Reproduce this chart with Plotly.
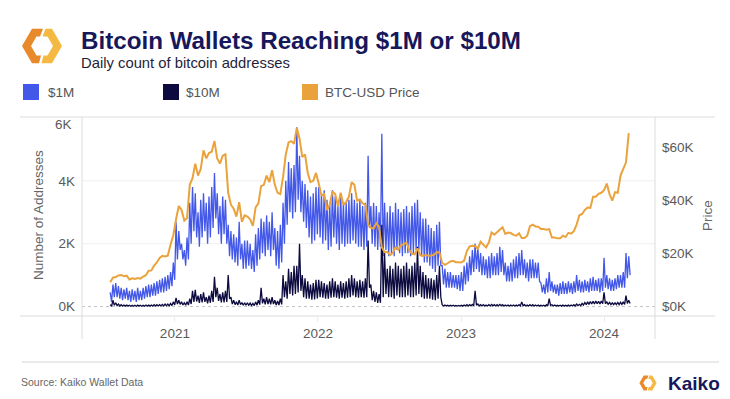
import pandas as pd
import plotly.graph_objects as go

# ---------------- data ----------------
week_start = "2020-07-20"          # first weekly sample (Mondays)
series_names = ["$1M", "$10M", "BTC-USD Price"]
year_ticks = ["2021-01-01", "2022-01-01", "2023-01-01", "2024-01-01"]
year_labels = ["2021", "2022", "2023", "2024"]
left_ticks = [0, 2000, 4000, 6000]
left_labels = ["0K", "2K", "4K", "6K"]
right_ticks = [0, 20000, 40000, 60000]
right_labels = ["$0K", "$20K", "$40K", "$60K"]

# BTC-USD price, weekly
price_2020 = [9200, 11000, 11200, 11800, 12000, 11500, 11700, 10300, 10700, 10500, 10800, 10600,
              11400, 11900, 13600, 13700, 15500, 16700, 18400, 19200, 19000, 19300, 23500, 27000]
price_2021 = [33000, 38000, 36500, 32500,
              33500, 46000, 48500, 54000,
              49500, 52000, 59000, 56000, 58000,
              58500, 62500, 56000, 54000,
              57000, 57500, 43000, 38500, 37000,
              34000, 39500, 32000, 34500,
              34000, 33000, 30500, 37500,
              39000, 45500, 46000, 49500, 47000,
              51500, 46000, 43000, 42500,
              49000, 57500, 62000, 62500,
              61500, 67500, 63500, 56500, 57500,
              50500, 47000, 47500, 50500]
price_2022 = [46500, 42000, 42500, 36500, 38500,
              43500, 42500, 38000, 43000,
              38500, 39500, 41500, 47000,
              46000, 40000, 40500, 39000,
              38500, 31000, 29800, 29500, 31500,
              30000, 22500, 20600, 20700,
              19500, 20300, 22500, 21500,
              23200, 23800, 24200, 21400, 20000,
              19800, 22000, 19500, 19200,
              19600, 19200, 19300, 19600, 20600,
              20500, 16500, 15800, 16400,
              17100, 17300, 16800, 16800]
price_2023 = [16700, 17400, 21000, 22800, 23000,
              22900, 21900, 24500, 23500,
              22400, 24200, 28000, 27200,
              28200, 29000, 30000, 27500,
              28000, 27800, 27100, 26800, 27700,
              25900, 25900, 26800, 30400,
              31000, 30300, 30200, 29300, 29300,
              29100, 29300, 26100, 26100,
              25800, 25800, 26800, 26300,
              27900, 27600, 28500, 31000, 34500,
              35000, 36500, 37400, 37300,
              41500, 41500, 42600, 43000]
price_2024 = [44000, 46500, 42500, 40000, 43200, 43000, 49500, 51800, 54500, 65500]

# $1M wallets: weekly high (weekday) and low (weekend) readings
m1_high_2020 = [450, 700, 750, 650, 600, 550, 600, 500, 550, 500, 600, 500,
                600, 650, 700, 700, 750, 800, 850, 900, 950, 1000, 1100, 1400]
m1_low_2020 = [150, 300, 300, 250, 200, 250, 200, 150, 200, 150, 200, 200,
               250, 300, 300, 350, 350, 400, 450, 450, 500, 550, 650, 850]
m1_high_2021 = [2700, 2400, 2000, 1800,
                2200, 3300, 3800, 3600,
                3000, 3400, 3600, 3300, 3500,
                3800, 4250, 3600, 3200,
                3500, 3400, 2600, 2400, 2300,
                2200, 2700, 2000, 2100,
                2100, 2000, 1800, 2300,
                2500, 2800, 2700, 2900, 2700,
                3000, 2500, 2400, 2600,
                3300, 4000, 4600, 4400,
                4500, 5700, 4800, 4000, 3900,
                3700, 3500, 3600, 3800]
m1_low_2021 = [1500, 1800, 1500, 1300,
               1500, 2000, 2400, 2200,
               1900, 2200, 2400, 2000, 2200,
               2500, 2800, 2300, 2000,
               2300, 2000, 1600, 1500, 1400,
               1300, 1500, 1200, 1200,
               1300, 1200, 1100, 1300,
               1500, 1700, 1600, 1800, 1600,
               1800, 1300, 1200, 1400,
               2000, 2600, 3000, 2800,
               3000, 3400, 3000, 2700, 2500,
               2200, 2000, 2100, 2300]
m1_high_2022 = [3800, 3600, 3700, 3400, 3300,
                3700, 3500, 3200, 3600,
                3300, 3300, 3400, 3600,
                3400, 3300, 3400, 3200,
                3300, 4800, 3200, 3300, 3200,
                3000, 5500, 3300, 3000,
                3200, 3000, 3300, 3100,
                3000, 3100, 3200, 3000, 3200,
                3300, 3400, 3000, 2800,
                2800, 2600, 2500, 2400, 2600,
                2700, 1300, 1200, 1100,
                1100, 1000, 1000, 1000]
m1_low_2022 = [2200, 2000, 2100, 1800, 1900,
               2200, 2000, 1800, 2000,
               1900, 2000, 2000, 2100,
               2000, 1900, 1900, 1800,
               1900, 2500, 2000, 1900, 1800,
               1900, 1600, 1800, 1600,
               1700, 1600, 1800, 1700,
               1600, 1700, 1700, 1600, 1700,
               1800, 1800, 1600, 1400,
               1400, 1300, 1200, 1100, 1300,
               1300, 700, 600, 600,
               600, 600, 550, 500]
m1_high_2023 = [1100, 1300, 1400, 1600, 1800,
                2000, 1900, 1700, 1600,
                1500, 1600, 1700, 1600,
                1700, 1900, 1800, 1400,
                1300, 1400, 1500, 1600, 1700,
                1800, 1500, 1400, 1500,
                1500, 1400, 1400, 750, 700,
                900, 1100, 800, 700,
                700, 750, 800, 750,
                800, 750, 800, 1000, 850,
                800, 850, 800, 900,
                950, 850, 900, 900]
m1_low_2023 = [500, 700, 800, 1000, 1100,
               1200, 1100, 1000, 1000,
               900, 900, 1000, 1000,
               1000, 1100, 1000, 800,
               800, 800, 900, 900, 1000,
               1000, 900, 800, 900,
               900, 900, 800, 450, 400,
               450, 500, 450, 400,
               350, 400, 400, 400,
               450, 400, 450, 500, 450,
               450, 500, 450, 500,
               500, 500, 450, 500]
m1_high_2024 = [1550, 1000, 900, 850, 900, 1000, 1000, 1100, 1700, 1600]
m1_low_2024 = [600, 550, 500, 500, 550, 600, 600, 600, 900, 1000]

# $10M wallets: weekly high and low readings
m10_high_2020 = [60, 200, 120, 80, 60, 50, 50, 40, 40, 40, 50, 40,
                 40, 50, 50, 50, 60, 60, 60, 70, 80, 80, 100, 150]
m10_low_2020 = [10, 40, 30, 20, 15, 15, 15, 10, 10, 10, 15, 10,
                10, 15, 15, 15, 20, 20, 20, 20, 25, 25, 30, 50]
m10_high_2021 = [280, 200, 150, 120,
                 150, 250, 500, 530,
                 350, 400, 450, 300, 350,
                 500, 950, 600, 400,
                 450, 500, 1000, 300, 200,
                 150, 200, 130, 120,
                 120, 110, 100, 150,
                 200, 600, 250, 300, 250,
                 300, 200, 180, 250,
                 1000, 800, 1200, 1100,
                 1300, 1300, 2000, 1000, 900,
                 800, 700, 750, 850]
m10_low_2021 = [80, 70, 50, 40,
                50, 80, 150, 160,
                120, 130, 150, 100, 120,
                150, 300, 180, 130,
                130, 150, 250, 80, 60,
                50, 60, 40, 40,
                40, 35, 30, 45,
                60, 100, 70, 80, 70,
                80, 50, 50, 70,
                300, 250, 400, 350,
                400, 450, 500, 300, 250,
                250, 220, 230, 260]
m10_high_2022 = [850, 800, 750, 700, 800,
                 900, 800, 700, 800,
                 750, 800, 900, 1000,
                 900, 800, 850, 800,
                 900, 2100, 700, 500, 450,
                 400, 2600, 1700, 1200,
                 1300, 1200, 1400, 1300,
                 1200, 1300, 1400, 1200, 1300,
                 1400, 1900, 1300, 1100,
                 1000, 900, 900, 850, 1000,
                 1300, 60, 50, 40,
                 40, 40, 35, 35]
m10_low_2022 = [300, 280, 250, 250, 280,
                300, 280, 250, 280,
                250, 280, 300, 350,
                300, 280, 300, 280,
                300, 600, 200, 150, 120,
                120, 300, 400, 300,
                300, 250, 350, 300,
                300, 300, 350, 300, 300,
                350, 400, 300, 250,
                250, 250, 220, 200, 250,
                300, 20, 20, 15,
                15, 15, 15, 15]
m10_high_2023 = [40, 50, 60, 60, 70,
                 500, 80, 60, 60,
                 50, 60, 70, 60,
                 60, 70, 60, 50,
                 50, 50, 50, 50, 60,
                 150, 60, 50, 60,
                 60, 50, 50, 40, 40,
                 60, 250, 60, 50,
                 40, 40, 50, 40,
                 50, 50, 60, 80, 70,
                 100, 130, 150, 160,
                 170, 180, 170, 180]
m10_low_2023 = [15, 20, 20, 25, 25,
                40, 25, 20, 20,
                20, 20, 25, 20,
                20, 25, 20, 20,
                20, 20, 20, 20, 20,
                30, 20, 20, 20,
                20, 20, 20, 15, 15,
                20, 40, 20, 20,
                15, 15, 20, 15,
                20, 20, 20, 30, 30,
                50, 60, 70, 80,
                80, 90, 80, 90]
m10_high_2024 = [450, 150, 130, 120, 120, 130, 140, 150, 350, 200]
m10_low_2024 = [90, 70, 60, 60, 60, 60, 70, 70, 100, 100]

# ---------------- assemble ----------------
price = price_2020 + price_2021 + price_2022 + price_2023 + price_2024
m1_high = m1_high_2020 + m1_high_2021 + m1_high_2022 + m1_high_2023 + m1_high_2024
m1_low = m1_low_2020 + m1_low_2021 + m1_low_2022 + m1_low_2023 + m1_low_2024
m10_high = m10_high_2020 + m10_high_2021 + m10_high_2022 + m10_high_2023 + m10_high_2024
m10_low = m10_low_2020 + m10_low_2021 + m10_low_2022 + m10_low_2023 + m10_low_2024
n = len(price)
for arr in (m1_high, m1_low, m10_high, m10_low):
    assert len(arr) == n, (len(arr), n)

weeks = pd.date_range(week_start, periods=n, freq="7D")
half = pd.Timedelta(hours=84)
x_zig, y_m1, y_m10 = [], [], []
for d, h1, l1, h10, l10 in zip(weeks, m1_high, m1_low, m10_high, m10_low):
    x_zig += [d, d + half]
    y_m1 += [h1, l1]
    y_m10 += [h10, l10]

BLUE = "#4358e8"
NAVY = "#0c0a3e"
ORANGE = "#eaa33c"
colors = [BLUE, NAVY, ORANGE]

fig = go.Figure()
fig.add_trace(go.Scatter(x=x_zig, y=y_m1, name=series_names[0], mode="lines",
                         line=dict(color=BLUE, width=1.3), yaxis="y"))
fig.add_trace(go.Scatter(x=x_zig, y=y_m10, name=series_names[1], mode="lines",
                         line=dict(color=NAVY, width=1.3), yaxis="y"))
fig.add_trace(go.Scatter(x=weeks, y=price, name=series_names[2], mode="lines",
                         line=dict(color=ORANGE, width=2), yaxis="y2"))

# ---------------- layout geometry ----------------
W, H = 730, 399
L, R, T, B = 82, 75, 117, 83
PW, PH = W - L - R, H - T - B


def fx(px):
    return (px - L) / PW


def fy(py):
    return (H - B - py) / PH


FONT = "Liberation Sans, Arial, sans-serif"
TICK = dict(family=FONT, size=13.5, color="#5a5a5a")

shapes = []
LINEC = "#dcdcdc"
for y in (117, 316):
    shapes.append(dict(type="line", xref="paper", yref="paper", x0=fx(20), x1=fx(715),
                       y0=fy(y), y1=fy(y), line=dict(color=LINEC, width=1)))
for x in (82, 655):
    shapes.append(dict(type="line", xref="paper", yref="paper", x0=fx(x), x1=fx(x),
                       y0=fy(117), y1=fy(339), line=dict(color=LINEC, width=1)))
shapes.append(dict(type="line", xref="paper", yref="paper", x0=fx(22), x1=fx(719),
                   y0=fy(362), y1=fy(362), line=dict(color="#d4d4d4", width=1)))
for g in left_ticks[1:3]:
    shapes.append(dict(type="line", xref="paper", yref="y", x0=0, x1=1, y0=g, y1=g,
                       layer="between", line=dict(color="#efefef", width=1)))
shapes.append(dict(type="line", xref="paper", yref="y", x0=0, x1=1, y0=0, y1=0,
                   layer="between", line=dict(color="#c4c4c4", width=1, dash="dot")))

# legend squares
leg_sq_x = [23, 163, 302]
leg_tx_x = [46, 184, 323]
for sx, c in zip(leg_sq_x, colors):
    shapes.append(dict(type="rect", xref="paper", yref="paper", x0=fx(sx), x1=fx(sx + 16),
                       y0=fy(84), y1=fy(100), fillcolor=c, line=dict(width=0)))


def logo(cx, cy, s):
    ro, ri = 20 * s, 11 * s
    h_o, h_i = 17.3 * s, 9.5 * s
    g = s

    def P(pts):
        return "M " + " L ".join(f"{fx(a):.5f},{fy(b):.5f}" for a, b in pts) + " Z"
    left = [(cx + 1 * g, cy - h_o), (cx - ro / 2, cy - h_o), (cx - ro, cy), (cx - ro / 2, cy + h_o),
            (cx - 3 * g, cy + h_o), (cx - 1 * g, cy + h_i), (cx - ri / 2, cy + h_i), (cx - ri, cy),
            (cx - ri / 2, cy - h_i), (cx - 2 * g, cy - h_i)]
    right = [(cx + 3.5 * g, cy - h_o), (cx + ro / 2, cy - h_o), (cx + ro, cy), (cx + ro / 2, cy + h_o),
             (cx - 0.5 * g, cy + h_o), (cx + 1.5 * g, cy + h_i), (cx + ri / 2, cy + h_i), (cx + ri, cy),
             (cx + ri / 2, cy - h_i), (cx + 0.5 * g, cy - h_i)]
    return [dict(type="path", xref="paper", yref="paper", path=P(left),
                 fillcolor="#e8892b", line=dict(width=0)),
            dict(type="path", xref="paper", yref="paper", path=P(right),
                 fillcolor="#f4b942", line=dict(width=0))]


shapes += logo(42, 46, 1.0)
shapes += logo(648, 383, 0.43)

ann = []
ann.append(dict(text="Bitcoin Wallets Reaching $1M or $10M", x=fx(79), y=fy(41), xref="paper",
                yref="paper", xanchor="left", yanchor="middle", showarrow=False,
                font=dict(family=FONT, size=24.2, color="#17175c", weight="bold")))
ann.append(dict(text="Daily count of bitcoin addresses", x=fx(79), y=fy(63), xref="paper",
                yref="paper", xanchor="left", yanchor="middle", showarrow=False,
                font=dict(family=FONT, size=14.8, color="#1f1f3a")))
for tx, name in zip(leg_tx_x, series_names):
    ann.append(dict(text=name, x=fx(tx), y=fy(92), xref="paper", yref="paper", xanchor="left",
                    yanchor="middle", showarrow=False,
                    font=dict(family=FONT, size=13.5, color="#555555")))
ann.append(dict(text="Number of Addresses", x=fx(38), y=fy(215), xref="paper", yref="paper",
                textangle=-90, showarrow=False, xanchor="center", yanchor="middle",
                font=dict(family=FONT, size=13.5, color="#666666")))
ann.append(dict(text="Price", x=fx(707), y=fy(216), xref="paper", yref="paper",
                textangle=-90, showarrow=False, xanchor="center", yanchor="middle",
                font=dict(family=FONT, size=13.5, color="#666666")))
# top left tick label sits slightly below the frame in the reference
ann.append(dict(text=left_labels[-1], x=fx(74), y=fy(125), xref="paper", yref="paper",
                xanchor="right", yanchor="middle", showarrow=False, font=TICK))
ann.append(dict(text="Source: Kaiko Wallet Data", x=fx(19), y=fy(382), xref="paper", yref="paper",
                xanchor="left", yanchor="middle", showarrow=False,
                font=dict(family=FONT, size=10.5, color="#666666")))
ann.append(dict(text="Kaiko", x=fx(666), y=fy(383), xref="paper", yref="paper",
                xanchor="left", yanchor="middle", showarrow=False,
                font=dict(family=FONT, size=19, color="#17175c", weight="bold")))

fig.update_layout(
    width=W, height=H, margin=dict(l=L, r=R, t=T, b=B, autoexpand=False),
    paper_bgcolor="white", plot_bgcolor="white", showlegend=False,
    shapes=shapes, annotations=ann,
    xaxis=dict(type="date", range=["2020-05-09", "2024-05-10"], tickvals=year_ticks,
               ticktext=year_labels, showgrid=False, zeroline=False, showline=False,
               ticks="outside", ticklen=5, tickcolor="#ececec", tickfont=TICK, fixedrange=True),
    yaxis=dict(range=[-300, 6030], tickvals=left_ticks[:3], ticktext=left_labels[:3], showgrid=False,
               zeroline=False, showline=False, tickfont=TICK, ticks="", ticklabelstandoff=6),
    yaxis2=dict(range=[-3500, 71600], tickvals=right_ticks, ticktext=right_labels,
                overlaying="y", side="right", showgrid=False, zeroline=False, showline=False,
                tickfont=TICK, ticks="", ticklabelstandoff=6),
)

fig.write_html("out.html", config={"displayModeBar": False},
               post_script="document.body.style.margin='0';document.body.style.padding='0';")
